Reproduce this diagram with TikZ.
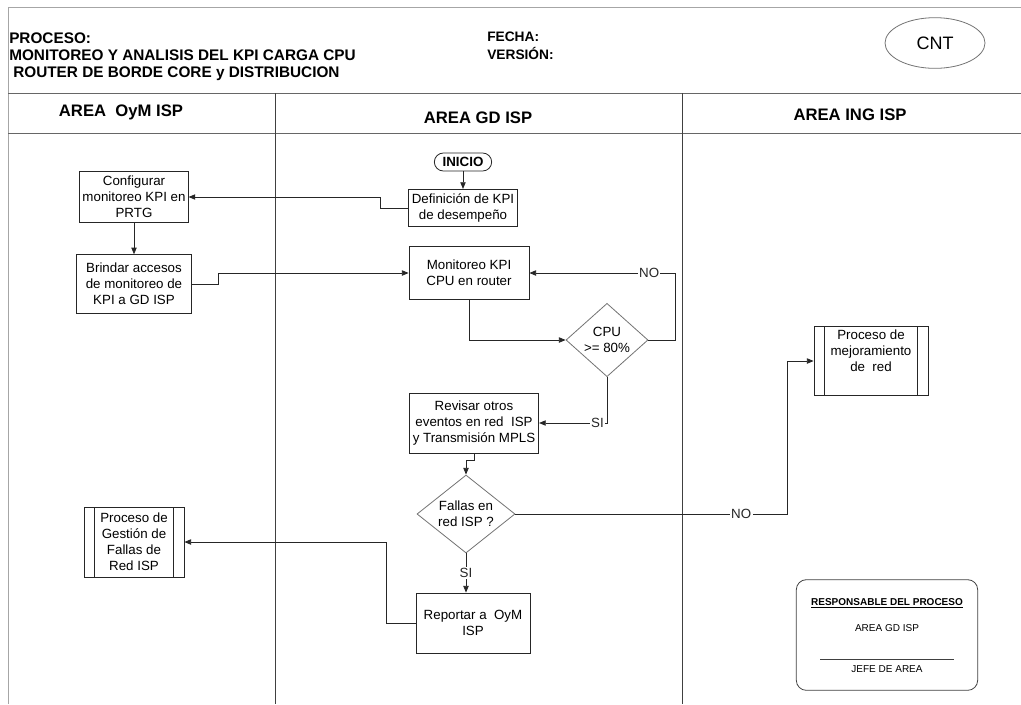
\documentclass[tikz,border=0pt]{standalone}
\usepackage{fontspec}
\setmainfont{Liberation Sans}
\usetikzlibrary{arrows.meta,positioning,shapes.geometric,calc}

\begin{document}
\begin{tikzpicture}[
  x=0.75pt,y=-0.75pt,
  font=\fontsize{10}{12}\selectfont,
  box/.style={draw=black!85,line width=0.6pt,fill=white,align=center,inner sep=2pt},
  subproc/.style={box,path picture={
      \draw[black!85,line width=0.6pt] ([xshift=8pt]path picture bounding box.north west) -- ([xshift=8pt]path picture bounding box.south west);
      \draw[black!85,line width=0.6pt] ([xshift=-8pt]path picture bounding box.north east) -- ([xshift=-8pt]path picture bounding box.south east);}},
  dec/.style={draw=black!55,line width=0.6pt,fill=white,shape=diamond,inner sep=0pt},
  flow/.style={-{Triangle[length=5pt,width=4pt]},black!85,line width=0.6pt},
  lbl/.style={fill=white,inner sep=1pt},
  lane/.style={black!75,line width=0.7pt},
  head/.style={font=\fontsize{12.5}{14}\selectfont\bfseries}]
\useasboundingbox (0,0) rectangle (1021,704);
% frame and swim lanes
\draw[black!35,line width=0.7pt] (8,704) -- (8,7) -- (1021,7);
\draw[black!60,line width=0.7pt] (8,93) -- (1021,93);
\draw[black!60,line width=0.7pt] (8,133) -- (1021,133);
\draw[lane] (275,93) -- (275,704);
\draw[lane] (682,93) -- (682,704);
% title block
\node[anchor=west,align=left,inner sep=0pt,font=\fontsize{11.5}{12.75}\selectfont\bfseries] (titulo) at (9,57)
   {PROCESO:\\MONITOREO Y ANALISIS DEL KPI CARGA CPU\\\hspace*{3pt}ROUTER DE BORDE CORE y DISTRIBUCION};
\node[anchor=west,align=left,inner sep=0pt,font=\fontsize{10.3}{13.5}\selectfont\bfseries] (fecha) at (487,46)
   {FECHA:\\VERSIÓN:};
\node[draw=black!55,line width=0.6pt,ellipse,minimum width=75pt,minimum height=38pt,font=\fontsize{13.5}{15}\selectfont] (cnt) at (935,43) {CNT};
\node[head] (laneA) at (121,112) {AREA\ \ OyM ISP};
\node[head] (laneB) at (478,118) {AREA GD ISP};
\node[head] (laneC) at (850,115) {AREA ING ISP};
% flow nodes
\node[box,rounded corners=6.75pt,minimum width=43pt,minimum height=13.5pt,inner sep=1pt,font=\fontsize{10}{12}\selectfont\bfseries] (ini) at (463,162) {INICIO};
\node[box,minimum width=82pt,minimum height=28pt] (def) at (463,208) {Definición de KPI\\de desempeño};
\node[box,minimum width=80pt,minimum height=38pt] (conf) at (134,197) {Configurar\\monitoreo KPI en\\PRTG};
\node[box,minimum width=86pt,minimum height=44pt] (brin) at (134,284) {Brindar accesos\\de monitoreo de\\KPI a GD ISP};
\node[box,minimum width=90pt,minimum height=40pt] (mon) at (469,273) {Monitoreo KPI\\CPU en router};
\node[dec,minimum width=61.5pt,minimum height=55pt,label={[align=center]center:CPU\\>= 80\%}] (cpu) at (607,340) {};
\node[box,minimum width=97pt,minimum height=45pt] (rev) at (474,423) {Revisar otros\\eventos en red\ \ ISP\\y Transmisión MPLS};
\node[dec,minimum width=73.5pt,minimum height=58.5pt,label={[align=center]center:Fallas en\\red ISP ?}] (fal) at (466,514) {};
\node[box,minimum width=85.5pt,minimum height=45pt] (rep) at (473,623) {Reportar a\ \ OyM\\ISP};
\node[subproc,minimum width=75pt,minimum height=52.5pt] (ges) at (134,542) {Proceso de\\Gestión de\\Fallas de\\Red ISP};
\node[subproc,minimum width=85.5pt,minimum height=50pt] (mej) at (871,361) {Proceso de\\mejoramiento\\de\ \ red\\[4pt]};
% connectors
\draw[flow] (ini.south) -- (def.north);
\draw[flow] (def.west) -- ++(-28,0) |- (conf.east);
\draw[flow] (conf.south) -- (brin.north);
\draw[flow] (brin.east) -- ++(27,0) |- (mon.west);
\draw[flow] (mon.south) |- (cpu.west);
\draw[flow] (cpu.east) -- ++(27,0) |- node[lbl,pos=0.59] {NO} (mon.east);
\draw[flow] (cpu.south) |- node[lbl,pos=0.57] {SI} (rev.east);
\draw[flow] (rev.south) -- ++(0,7) -| (fal.north);
\draw[flow] (fal.south) -- node[lbl] {SI} (fal.south |- rep.north);
\draw[flow] (rep.west) -- ++(-29,0) |- (ges.east);
\draw[flow] (fal.east) -- node[lbl,pos=0.83] {NO} ++(272,0) |- (mej.west);
% responsible block
\node[draw=black!75,line width=0.6pt,rounded corners=7.5pt,minimum width=136pt,minimum height=83pt] (resp) at (887,635) {};
\node[font=\fontsize{7.5}{9}\selectfont\bfseries] (respT) at (887,603) {\underline{RESPONSABLE DEL PROCESO}};
\node[font=\fontsize{7.5}{9}\selectfont] (respA) at (887,628) {AREA GD ISP};
\draw[black!75,line width=0.5pt] (820,659) -- (954,659);
\node[font=\fontsize{7.5}{9}\selectfont] (respJ) at (887,669) {JEFE DE AREA};
\end{tikzpicture}
\end{document}
